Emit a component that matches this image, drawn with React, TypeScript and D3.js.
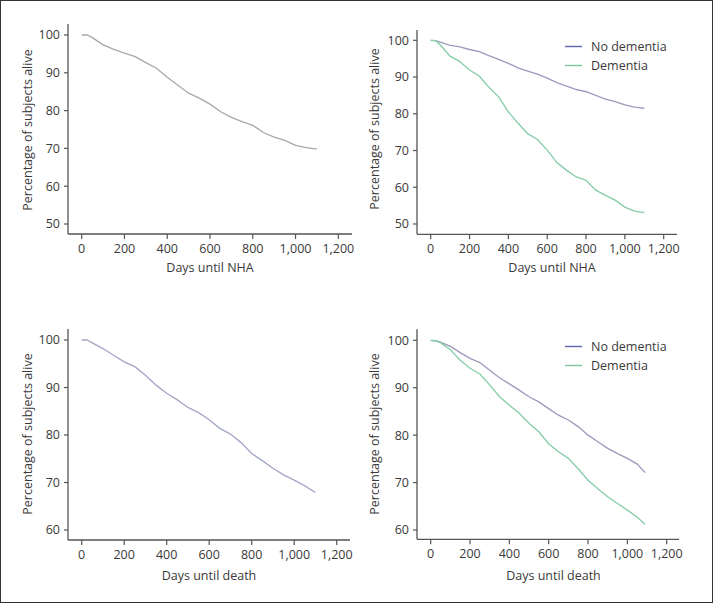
// App.tsx
import React from "react";
import * as d3 from "d3";

// sample days
const days = [0, 25, 50, 100, 150, 200, 250, 300, 350, 400, 450, 500, 550, 600, 650, 700, 750, 800, 850, 900, 950, 1000, 1050, 1100];
const daysDeath = [0, 25, 50, 100, 150, 200, 250, 300, 350, 400, 450, 500, 550, 600, 650, 700, 750, 800, 850, 900, 950, 1000, 1050, 1090];

// top-left: all subjects, days until NHA
const nhaAll = [100, 100, 99.3, 97.4, 96.2, 95.2, 94.3, 92.7, 91.2, 88.8, 86.7, 84.6, 83.3, 81.7, 79.7, 78.2, 77.1, 76.1, 74.2, 73.0, 72.1, 70.8, 70.2, 69.8];
// top-right: by dementia, days until NHA
const nhaNoDementia = [100, 99.9, 99.5, 98.6, 98.2, 97.5, 96.9, 95.8, 94.8, 93.7, 92.5, 91.6, 90.8, 89.7, 88.5, 87.5, 86.6, 86.0, 85.0, 84.0, 83.3, 82.4, 81.8, 81.5];
const nhaDementia = [100, 99.9, 98.7, 95.7, 94.2, 91.9, 90.3, 87.2, 84.6, 80.5, 77.4, 74.6, 73.0, 70.1, 66.7, 64.6, 62.8, 61.9, 59.2, 57.8, 56.5, 54.6, 53.5, 53.1];
// bottom-left: all subjects, days until death
const deathAll = [100, 100, 99.4, 98.2, 96.8, 95.4, 94.4, 92.6, 90.5, 88.8, 87.4, 85.8, 84.7, 83.2, 81.4, 80.2, 78.4, 76.1, 74.6, 73.0, 71.6, 70.5, 69.3, 67.9];
// bottom-right: by dementia, days until death
const deathNoDementia = [100, 99.9, 99.6, 98.7, 97.4, 96.2, 95.3, 93.7, 92.1, 90.8, 89.5, 88.1, 87.0, 85.6, 84.2, 83.2, 81.8, 80.0, 78.6, 77.2, 76.1, 75.1, 73.9, 72.1];
const deathDementia = [100, 99.9, 99.5, 98.0, 95.8, 94.1, 92.9, 90.6, 88.1, 86.3, 84.6, 82.5, 80.7, 78.2, 76.5, 75.1, 72.9, 70.5, 68.7, 67.0, 65.6, 64.2, 62.7, 61.2];

const xTicks = [0, 200, 400, 600, 800, 1000, 1200];
const yTicksNha = [50, 60, 70, 80, 90, 100];
const yTicksDeath = [60, 70, 80, 90, 100];
const legendLabels = ["No dementia", "Dementia"];

const FONT = "'Open Sans', 'Noto Sans', sans-serif";
const TEXT = "#3a3a3a";
const AXIS = "#555";
const GREY = "#a8a8a8";
const BLUEGREY = "#a4a7c6";
const NO_DEM = "#9c9bbd";
const DEM = "#86cda8";
const fmt = d3.format(",");

type Series = { x: number[]; y: number[]; color: string };

type PanelProps = {
  axisX: number; // y-axis line position
  axisY: number; // x-axis line position
  top: number;
  xRange: [number, number];
  xEnd: number;
  yDomain: [number, number];
  yRange: [number, number];
  yTicks: number[];
  series: Series[];
  xTitle: string;
  xTitlePos: [number, number];
  yTitlePos: [number, number];
  legend?: [number, number];
};

function Panel(p: PanelProps) {
  const x = d3.scaleLinear().domain([0, 1200]).range(p.xRange);
  const y = d3.scaleLinear().domain(p.yDomain).range(p.yRange);
  const line = d3
    .line<[number, number]>()
    .x((d) => x(d[0]))
    .y((d) => y(d[1]));

  return (
    <g fontFamily={FONT} fill={TEXT}>
      {p.series.map((s, i) => (
        <path
          key={i}
          d={line(s.x.map((v, j) => [v, s.y[j]] as [number, number])) || ""}
          fill="none"
          stroke={s.color}
          strokeWidth={1.35}
        />
      ))}
      {/* axes */}
      <line x1={p.axisX} x2={p.axisX} y1={p.top} y2={p.axisY} stroke={AXIS} strokeWidth={1.3} />
      <line x1={p.axisX} x2={p.xEnd} y1={p.axisY} y2={p.axisY} stroke={AXIS} strokeWidth={1.3} />
      {p.yTicks.map((t) => (
        <g key={"y" + t}>
          <line x1={p.axisX - 4} x2={p.axisX} y1={y(t)} y2={y(t)} stroke={AXIS} strokeWidth={1.2} />
          <text x={p.axisX - 8} y={y(t)} dy="0.35em" textAnchor="end" fontSize={12.5}>
            {t}
          </text>
        </g>
      ))}
      {xTicks.map((t) => (
        <g key={"x" + t}>
          <line x1={x(t)} x2={x(t)} y1={p.axisY} y2={p.axisY + 5} stroke={AXIS} strokeWidth={1.2} />
          <text x={x(t)} y={p.axisY + 19} textAnchor="middle" fontSize={12.5}>
            {fmt(t)}
          </text>
        </g>
      ))}
      <text x={p.xTitlePos[0]} y={p.xTitlePos[1]} textAnchor="middle" fontSize={12.5}>
        {p.xTitle}
      </text>
      <text
        transform={`translate(${p.yTitlePos[0]},${p.yTitlePos[1]}) rotate(-90)`}
        textAnchor="middle"
        dy="0.35em"
        fontSize={12.5}
      >
        Percentage of subjects alive
      </text>
      {p.legend &&
        legendLabels.map((lab, i) => (
          <g key={lab} transform={`translate(${p.legend![0]},${p.legend![1] + i * 19})`}>
            <line x1={0} x2={17} y1={0} y2={0} stroke={i === 0 ? "#5d67ad" : "#7cc69e"} strokeWidth={1.4} />
            <text x={26} y={0} dy="0.35em" fontSize={12.5}>
              {lab}
            </text>
          </g>
        ))}
    </g>
  );
}

export default function App() {
  return (
    <svg width={714} height={604} style={{ position: "absolute", left: 0, top: 0, background: "#fff" }}>
      <rect x={0.5} y={0.5} width={712} height={602} fill="#fff" stroke="#333" strokeWidth={1} />
      <Panel
        axisX={68}
        axisY={234}
        top={24}
        xRange={[81.7, 338.3]}
        xEnd={352}
        yDomain={[50, 100]}
        yRange={[224, 35]}
        yTicks={yTicksNha}
        series={[{ x: days, y: nhaAll, color: GREY }]}
        xTitle="Days until NHA"
        xTitlePos={[210, 272]}
        yTitlePos={[28, 130]}
      />
      <Panel
        axisX={417}
        axisY={234.3}
        top={30}
        xRange={[430.7, 663.7]}
        xEnd={677}
        yDomain={[50, 100]}
        yRange={[224, 40.3]}
        yTicks={yTicksNha}
        series={[
          { x: days, y: nhaNoDementia, color: NO_DEM },
          { x: days, y: nhaDementia, color: DEM },
        ]}
        xTitle="Days until NHA"
        xTitlePos={[552, 272]}
        yTitlePos={[375, 129]}
        legend={[565, 46.5]}
      />
      <Panel
        axisX={68}
        axisY={540}
        top={329}
        xRange={[81.7, 336.7]}
        xEnd={350}
        yDomain={[60, 100]}
        yRange={[530, 340]}
        yTicks={yTicksDeath}
        series={[{ x: days, y: deathAll, color: BLUEGREY }]}
        xTitle="Days until death"
        xTitlePos={[209, 580]}
        yTitlePos={[28, 434]}
      />
      <Panel
        axisX={417}
        axisY={539.3}
        top={329.3}
        xRange={[430.7, 666.7]}
        xEnd={679}
        yDomain={[60, 100]}
        yRange={[530, 340.3]}
        yTicks={yTicksDeath}
        series={[
          { x: daysDeath, y: deathNoDementia, color: NO_DEM },
          { x: daysDeath, y: deathDementia, color: DEM },
        ]}
        xTitle="Days until death"
        xTitlePos={[553.5, 580]}
        yTitlePos={[375, 434]}
        legend={[565, 346.5]}
      />
    </svg>
  );
}
